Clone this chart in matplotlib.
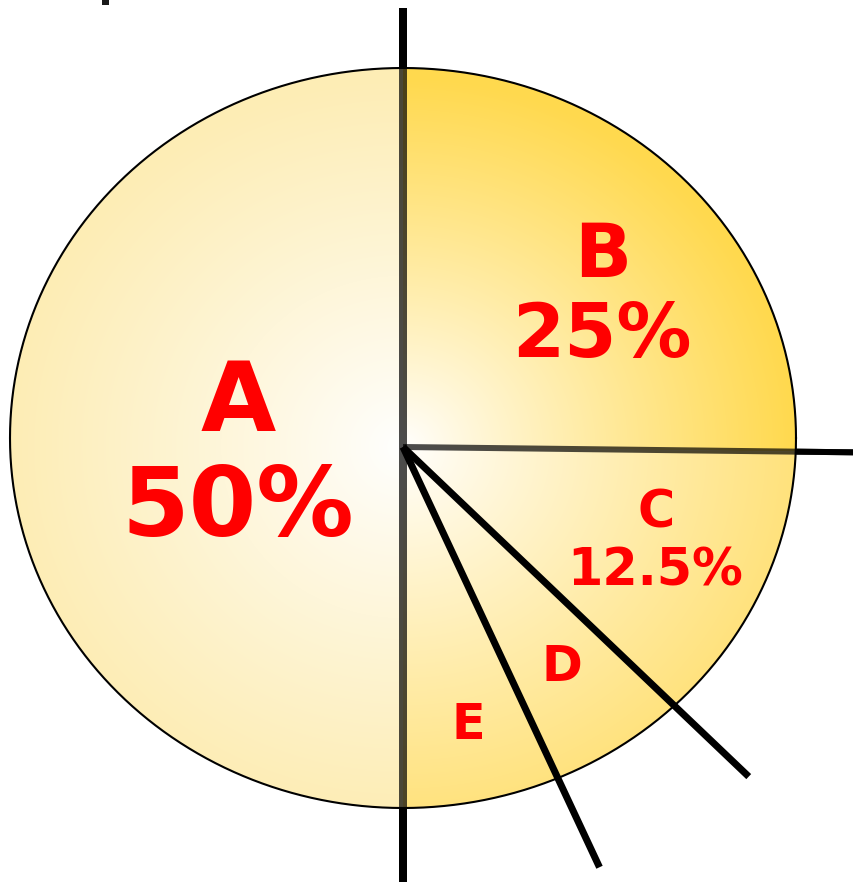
import numpy as np
import matplotlib
matplotlib.use('Agg')
import matplotlib.pyplot as plt
from matplotlib.path import Path
from matplotlib.patches import PathPatch, Rectangle
from matplotlib.colors import to_rgb

# ---------------- data ----------------
categories = ['A', 'B', 'C', 'D', 'E']
shares = [50, 25.2, 12.4, 5.8, 6.6]          # drawn slice sizes (percent)
pct_labels = ['50%', '25%', '12.5%', '', '']

# ---------------- style / layout ----------------
W, H = 854, 882
CX, CY, RX, RY = 403, 438, 393, 370          # ellipse in pixels
PIE_PX = (403, 447)                          # wedge apex in pixels
edge_colors = ['#FDEDB5', '#FFD94E', '#FFE27C', '#FFE27C', '#FFE27C']
# boundary line styles: (length, width px, translucent inside)
line_len = [1.176, 1.186, 1.148, 1.252, 1.241]   # boundary after start, A, B, C, D
line_w = [8, 8, 6, 7, 7]
line_split = [True, True, True, False, False]

name_pos = [(238, 431), (602.5, 277), (656, 527), (561.5, 681), (468, 739)]
name_size = [70, 54, 36.5, 35.5, 35.5]
pct_pos = [(238, 536), (601.5, 357), (655.5, 586), None, None]


def to_data(px, py):
    return ((px - CX) / RX, (CY - py) / RY)


fig = plt.figure(figsize=(W / 100, H / 100), dpi=100)
ax = fig.add_axes([0, 0, 1, 1])
x0, _ = to_data(0, 0)
x1, _ = to_data(W, 0)
_, yt = to_data(0, 0)
_, yb = to_data(0, H)

pc = to_data(*PIE_PX)
wedges, _ = ax.pie(shares, startangle=270, counterclock=False, radius=1.4,
                   center=pc, frame=False,
                   wedgeprops=dict(facecolor='none', edgecolor='none'))
ax.set_aspect('auto')
ax.set_xlim(x0, x1)
ax.set_ylim(yb, yt)
ax.axis('off')

# radial gradient fills
xs = np.linspace(x0, x1, W)
ys = np.linspace(yb, yt, H)
X, Y = np.meshgrid(xs, ys)
R = np.sqrt((X - pc[0]) ** 2 + (Y - pc[1]) ** 2)
T = np.clip(R, 0, 1) ** 0.9
for w, c in zip(wedges, edge_colors):
    rgb = np.array(to_rgb(c))
    img = 1 - (1 - rgb)[None, None, :] * T[..., None]
    im = ax.imshow(img, extent=(x0, x1, yb, yt), origin='lower', aspect='auto',
                   interpolation='bilinear', zorder=1)
    im.set_clip_path(w)

# white mask outside the ellipse
t = np.linspace(2 * np.pi, 0, 721)
ex, ey = np.cos(t), np.sin(t)
rect_v = [(x0 - 1, yb - 1), (x1 + 1, yb - 1), (x1 + 1, yt + 1), (x0 - 1, yt + 1), (x0 - 1, yb - 1)]
rect_c = [Path.MOVETO, Path.LINETO, Path.LINETO, Path.LINETO, Path.CLOSEPOLY]
ell_c = [Path.MOVETO] + [Path.LINETO] * (len(ex) - 2) + [Path.CLOSEPOLY]
mask_path = Path(rect_v + list(zip(ex, ey)), rect_c + ell_c)
mask = PathPatch(mask_path, facecolor='white', edgecolor='none', zorder=3)
ax.add_patch(mask)
ax.plot(ex, ey, color='black', lw=1.5, zorder=4)

# boundary lines
bounds = 270 - 360 * np.concatenate([[0], np.cumsum(shares)[:-1]]) / 100.0
for ang, L, lwpx, split in zip(bounds, line_len, line_w, line_split):
    a = np.deg2rad(ang)
    xx = [pc[0], pc[0] + L * np.cos(a)]
    yy = [pc[1], pc[1] + L * np.sin(a)]
    lw = lwpx * 0.72
    if split:
        ax.plot(xx, yy, color='black', alpha=0.7, lw=lw, solid_capstyle='butt', zorder=5)
        ln, = ax.plot(xx, yy, color='black', lw=lw, solid_capstyle='butt', zorder=6)
        ln.set_clip_path(mask)
    else:
        ax.plot(xx, yy, color='black', lw=lw, solid_capstyle='butt', zorder=6)

# labels
for name, pos, fs, pct, ppos in zip(categories, name_pos, name_size, pct_labels, pct_pos):
    ax.text(*to_data(*pos), name, ha='center', va='baseline', fontsize=fs,
            fontweight='bold', color='#FF0000', family='DejaVu Sans', zorder=8)
    if pct:
        ax.text(*to_data(*ppos), pct, ha='center', va='baseline', fontsize=fs,
                fontweight='bold', color='#FF0000', family='DejaVu Sans', zorder=8)

# small cropped mark at the top edge
fig.patches.append(Rectangle((102 / W, 1 - 5 / H), 7 / W, 5 / H, transform=fig.transFigure,
                             facecolor='#1a1a1a', edgecolor='none'))

fig.savefig('out.png', dpi=100)
